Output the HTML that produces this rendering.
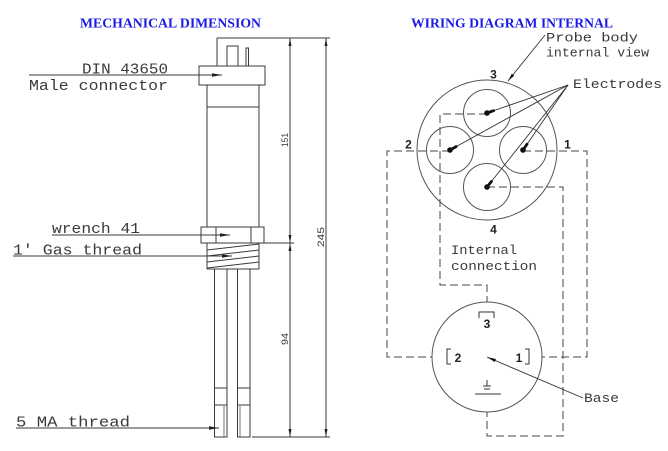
<!DOCTYPE html>
<html><head><meta charset="utf-8"><style>
html,body{margin:0;padding:0;background:#fff;}
svg{display:block;}
</style></head><body>
<svg width="668" height="451" viewBox="0 0 668 451" xmlns="http://www.w3.org/2000/svg">
<rect width="668" height="451" fill="#fff"/>
<!-- Titles -->
<text x="80" y="27.5" font-family="Liberation Serif, serif" font-weight="bold" font-size="14" fill="#1a1ae6" textLength="181" lengthAdjust="spacingAndGlyphs">MECHANICAL DIMENSION</text>
<text x="411" y="27.5" font-family="Liberation Serif, serif" font-weight="bold" font-size="14" fill="#1a1ae6" textLength="202" lengthAdjust="spacingAndGlyphs">WIRING DIAGRAM INTERNAL</text>

<g stroke="#3a3a3a" stroke-width="1" fill="none">
<!-- top extension & pins -->
<line x1="217" y1="38" x2="330" y2="38"/>
<line x1="217" y1="38" x2="217" y2="66"/>
<rect x="227" y="46" width="11" height="20"/>
<rect x="246" y="48" width="2.5" height="18"/>
<!-- connector box -->
<rect x="199" y="66" width="66" height="19"/>
<!-- body -->
<line x1="207" y1="85" x2="207" y2="227"/>
<line x1="259" y1="85" x2="259" y2="227"/>
<line x1="207" y1="107" x2="259" y2="107"/>
<!-- wrench -->
<rect x="201" y="227" width="63" height="16"/>
<line x1="216" y1="227" x2="216" y2="243"/>
<line x1="251" y1="227" x2="251" y2="243"/>
<line x1="264" y1="243" x2="294" y2="243"/>
<!-- thread -->
<line x1="207" y1="243" x2="207" y2="269"/>
<line x1="259" y1="243" x2="259" y2="269"/>
<line x1="207" y1="269" x2="259" y2="269"/>
<line x1="207" y1="250" x2="259" y2="244"/>
<line x1="207" y1="256" x2="259" y2="250"/>
<line x1="207" y1="262" x2="259" y2="256"/>
<line x1="207" y1="268" x2="259" y2="262"/>
<!-- rods -->
<rect x="214.5" y="269" width="12.5" height="168"/>
<rect x="237.5" y="269" width="12.5" height="168"/>
<line x1="214.5" y1="388" x2="227" y2="388"/>
<line x1="237.5" y1="388" x2="250" y2="388"/>
<line x1="214.5" y1="405" x2="227" y2="405"/>
<line x1="237.5" y1="405" x2="250" y2="405"/>
<line x1="224" y1="406" x2="224" y2="437" stroke-width="0.7"/>
<line x1="240" y1="406" x2="240" y2="437" stroke-width="0.7"/>
<!-- bottom extension -->
<line x1="252" y1="437" x2="330" y2="437"/>
<!-- dimension lines -->
<line x1="290" y1="38" x2="290" y2="437"/>
<line x1="326" y1="38" x2="326" y2="437"/>
<!-- leaders -->
<line x1="29" y1="75" x2="222" y2="75"/>
<line x1="52" y1="235" x2="230" y2="235"/>
<line x1="13" y1="256" x2="232" y2="256"/>
<line x1="16" y1="428" x2="219" y2="428"/>
</g>
<g fill="#222" stroke="none">
<polygon points="222,75 212,73.3 212,76.7"/>
<polygon points="230,235 220,233.3 220,236.7"/>
<polygon points="232,256 222,254.3 222,257.7"/>
<polygon points="219,428 209,426.3 209,429.7"/>
<polygon points="290,38 288.5,46 291.5,46"/>
<polygon points="290,243 288.5,235 291.5,235"/>
<polygon points="290,243 288.5,251 291.5,251"/>
<polygon points="290,437 288.5,429 291.5,429"/>
<polygon points="326,38 324.5,46 327.5,46"/>
<polygon points="326,437 324.5,429 327.5,429"/>
</g>
<!-- left labels -->
<g font-family="Liberation Mono, monospace" font-size="15" fill="#3a3a3a">
<text x="82" y="73.5" textLength="86" lengthAdjust="spacingAndGlyphs">DIN 43650</text>
<text x="29" y="90" textLength="139" lengthAdjust="spacingAndGlyphs">Male connector</text>
<text x="52" y="233" textLength="88" lengthAdjust="spacingAndGlyphs">wrench 41</text>
<text x="13" y="254.5" textLength="129" lengthAdjust="spacingAndGlyphs">1' Gas thread</text>
<text x="16" y="426.5" textLength="114" lengthAdjust="spacingAndGlyphs">5 MA thread</text>
</g>
<g font-family="Liberation Sans, sans-serif" font-size="9" fill="#333">
<text transform="translate(288,140) rotate(-90)" text-anchor="middle" textLength="14" lengthAdjust="spacingAndGlyphs">151</text>
<text transform="translate(324,237) rotate(-90)" text-anchor="middle" textLength="20" lengthAdjust="spacingAndGlyphs">245</text>
<text transform="translate(288,339) rotate(-90)" text-anchor="middle" textLength="12" lengthAdjust="spacingAndGlyphs">94</text>
</g>

<!-- Right: wiring -->
<g stroke="#555" stroke-width="1" fill="none">
<circle cx="487" cy="150" r="70"/>
<circle cx="487" cy="113" r="23.5"/>
<circle cx="450" cy="150" r="23.5"/>
<circle cx="523" cy="150" r="23.5"/>
<circle cx="487" cy="187" r="23.5"/>
<circle cx="487" cy="357" r="55"/>
</g>
<g stroke="#444" stroke-width="1" fill="none" stroke-dasharray="8,4">
<path d="M487,114 H440 V285 H487 V302"/>
<path d="M450,151 H387 V357 H432"/>
<path d="M523,151 H587 V357 H542"/>
<path d="M487,187 H563 V436 H487 V412"/>
</g>
<!-- electrode leaders -->
<g stroke="#333" stroke-width="0.9" fill="none">
<line x1="568" y1="85" x2="487" y2="113"/>
<line x1="568" y1="85" x2="450" y2="150"/>
<line x1="568" y1="85" x2="523" y2="150"/>
<line x1="568" y1="85" x2="487" y2="187"/>
<line x1="545" y1="35" x2="508" y2="81"/>
<line x1="583" y1="398" x2="487" y2="357"/>
</g>
<g stroke="#111" stroke-width="2.8" stroke-linecap="round">
<line x1="487" y1="113" x2="493.6" y2="110.7"/>
<line x1="450" y1="150" x2="456.1" y2="146.6"/>
<line x1="523" y1="150" x2="527" y2="144.2"/>
<line x1="487" y1="187" x2="491.4" y2="181.5"/>
</g>
<g fill="#111">
<circle cx="487" cy="113" r="2.8"/>
<circle cx="450" cy="150" r="2.8"/>
<circle cx="523" cy="150" r="2.8"/>
<circle cx="487" cy="187" r="2.8"/>
<polygon points="508,81 514.2,75.7 511.8,73.8"/>
<polygon points="487,357 495.9,359 494.7,362"/>
</g>
<!-- base inner symbols -->
<g stroke="#333" stroke-width="1" fill="none">
<path d="M479,318 V312 H494 V318"/>
<path d="M451,349 H447 V364 H451"/>
<path d="M525,349 H529 V364 H525"/>
<line x1="487" y1="380" x2="487" y2="386"/>
<line x1="483" y1="386" x2="491" y2="386"/>
<line x1="484" y1="389" x2="490" y2="389"/>
<line x1="475" y1="394" x2="501" y2="394"/>
</g>
<g font-family="Liberation Sans, sans-serif" font-size="12" font-weight="bold" fill="#222">
<text x="487" y="328" text-anchor="middle">3</text>
<text x="458" y="362" text-anchor="middle">2</text>
<text x="519" y="362" text-anchor="middle">1</text>
<text x="493.5" y="78.5" text-anchor="middle">3</text>
<text x="408.5" y="148.5" text-anchor="middle">2</text>
<text x="567.5" y="148.5" text-anchor="middle">1</text>
<text x="493.5" y="233.5" text-anchor="middle">4</text>
</g>
<g font-family="Liberation Mono, monospace" font-size="13" fill="#3a3a3a">
<text x="546" y="41.5" textLength="92" lengthAdjust="spacingAndGlyphs">Probe body</text>
<text x="546" y="56.5" textLength="103" lengthAdjust="spacingAndGlyphs">internal view</text>
<text x="573" y="88" textLength="89" lengthAdjust="spacingAndGlyphs">Electrodes</text>
<text x="451" y="254" textLength="66" lengthAdjust="spacingAndGlyphs">Internal</text>
<text x="451" y="270" textLength="86" lengthAdjust="spacingAndGlyphs">connection</text>
<text x="584" y="402" textLength="35" lengthAdjust="spacingAndGlyphs">Base</text>
</g>
</svg>
</body></html>
